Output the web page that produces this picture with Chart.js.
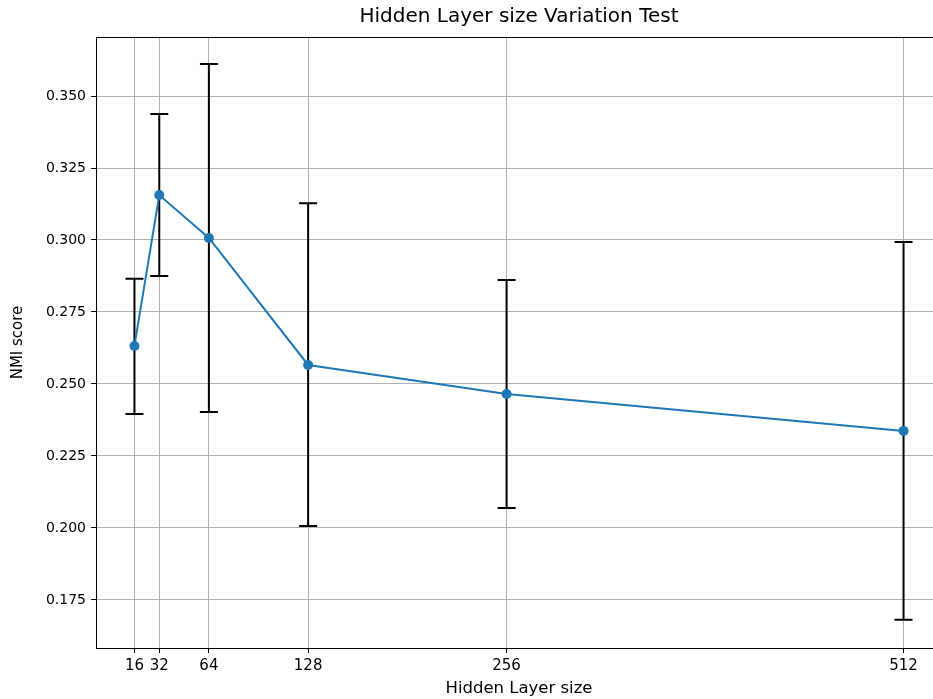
<!DOCTYPE html>
<html>
<head>
<meta charset="utf-8">
<script src="https://cdn.jsdelivr.net/npm/chart.js@4"></script>
<style>
  html, body { margin: 0; padding: 0; background: #fff; overflow: hidden; }
  #wrap { width: 950px; height: 699px; }
</style>
</head>
<body>
<div id="wrap"><canvas id="hiddenLayer"></canvas></div>
<script>
const sizes = [16, 32, 64, 128, 256, 512];
const nmiMean = [0.2632, 0.3156, 0.3007, 0.2566, 0.2465, 0.2337];
const nmiUpper = [0.2865, 0.3438, 0.3611, 0.3128, 0.2861, 0.2993];
const nmiLower = [0.2396, 0.2875, 0.2403, 0.2007, 0.2069, 0.1681];
const yTicks = [0.175, 0.200, 0.225, 0.250, 0.275, 0.300, 0.325, 0.350];

const lineBlue = "#1f77b4";
const gridGrey = "#b0b0b0";

// error bars under the line, caps included
const errorBars = {
    id: "errorBars",
    beforeDatasetsDraw(chart) {
        const ctx = chart.ctx;
        const x = chart.scales.x;
        const y = chart.scales.y;
        ctx.save();
        ctx.strokeStyle = "#000";
        ctx.lineWidth = 2;
        for (let i = 0; i < sizes.length; i++) {
            const px = x.getPixelForValue(sizes[i]);
            const top = y.getPixelForValue(nmiUpper[i]);
            const bot = y.getPixelForValue(nmiLower[i]);
            ctx.beginPath();
            ctx.moveTo(px, top);
            ctx.lineTo(px, bot);
            ctx.moveTo(px - 9, top);
            ctx.lineTo(px + 9, top);
            ctx.moveTo(px - 9, bot);
            ctx.lineTo(px + 9, bot);
            ctx.stroke();
        }
        ctx.restore();
    }
};

// box round the plot like the matplotlib spines
const frame = {
    id: "frame",
    afterDraw(chart) {
        const a = chart.chartArea;
        const ctx = chart.ctx;
        ctx.save();
        ctx.strokeStyle = "#000";
        ctx.lineWidth = 1;
        ctx.strokeRect(a.left + 0.5, a.top + 0.5, a.right - a.left, a.bottom - a.top);
        ctx.restore();
    }
};

const ctx = document.getElementById("hiddenLayer");

new Chart(ctx, {
    type: "line",
    data: {
        datasets: [{
            data: sizes.map((s, i) => ({ x: s, y: nmiMean[i] })),
            borderColor: lineBlue,
            backgroundColor: lineBlue,
            borderWidth: 2,
            pointRadius: 5,
            pointHoverRadius: 5,
            pointBorderWidth: 0,
            tension: 0
        }]
    },
    options: {
        responsive: true,
        maintainAspectRatio: false,
        animation: false,
        events: [],
        layout: { padding: { left: 0, right: 8, top: 0, bottom: 0 } },
        plugins: {
            legend: { display: false },
            tooltip: { enabled: false },
            title: {
                display: true,
                fullSize: false,
                text: "Hidden Layer size Variation Test",
                color: "#000",
                font: { family: "DejaVu Sans", size: 20, weight: "normal" },
                padding: { top: 5, bottom: 8 }
            }
        },
        scales: {
            x: {
                type: "linear",
                min: -8.8,
                max: 536.8,
                afterBuildTicks(scale) {
                    scale.ticks = sizes.map(v => ({ value: v }));
                },
                afterFit(scale) { scale.height = 51; },
                grid: { color: gridGrey, lineWidth: 1, tickColor: "#000", tickLength: 5 },
                border: { color: "#000" },
                ticks: {
                    color: "#000",
                    padding: 4,
                    maxRotation: 0,
                    autoSkip: false,
                    font: { family: "DejaVu Sans", size: 15 },
                    callback: v => String(v)
                },
                title: {
                    display: true,
                    text: "Hidden Layer size",
                    color: "#000",
                    font: { family: "DejaVu Sans", size: 16.5 },
                    padding: { top: 2, bottom: 0 }
                }
            },
            y: {
                min: 0.1583,
                max: 0.3705,
                afterBuildTicks(scale) {
                    scale.ticks = yTicks.map(v => ({ value: v }));
                },
                afterFit(scale) { scale.width = 96; },
                grid: { color: gridGrey, lineWidth: 1, tickColor: "#000", tickLength: 5 },
                border: { color: "#000" },
                ticks: {
                    color: "#000",
                    padding: 5,
                    autoSkip: false,
                    font: { family: "DejaVu Sans", size: 14 },
                    callback: v => v.toFixed(3)
                },
                title: {
                    display: true,
                    text: "NMI score",
                    color: "#000",
                    font: { family: "DejaVu Sans", size: 15 },
                    padding: { top: 9, bottom: 4 }
                }
            }
        }
    },
    plugins: [errorBars, frame]
});
</script>
</body>
</html>
